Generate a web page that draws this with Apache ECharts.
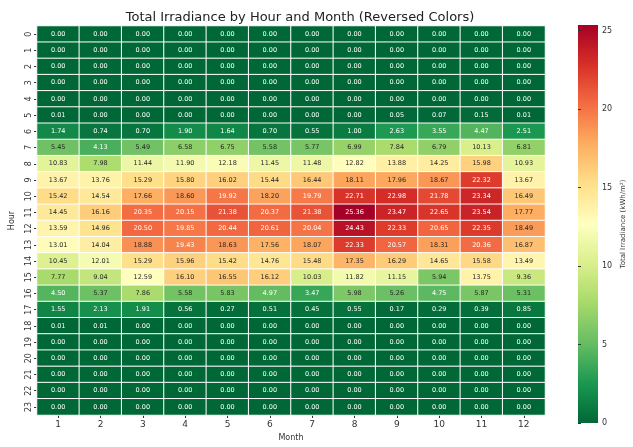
<!DOCTYPE html>
<html>
<head>
<meta charset="utf-8">
<script src="https://cdn.jsdelivr.net/npm/echarts@6/dist/echarts.min.js"></script>
<style>
  html, body { margin: 0; padding: 0; background: #fff; }
  #chart { width: 633px; height: 447px; }
</style>
</head>
<body>
<div id="chart"></div>
<script>
const months = ['1', '2', '3', '4', '5', '6', '7', '8', '9', '10', '11', '12'];
const hours = Array.from({ length: 24 }, (_, i) => String(i));

// irradiance per hour (rows) for months 1..12 (columns)
const irradiance = [
  [0, 0, 0, 0, 0, 0, 0, 0, 0, 0, 0, 0],
  [0, 0, 0, 0, 0, 0, 0, 0, 0, 0, 0, 0],
  [0, 0, 0, 0, 0, 0, 0, 0, 0, 0, 0, 0],
  [0, 0, 0, 0, 0, 0, 0, 0, 0, 0, 0, 0],
  [0, 0, 0, 0, 0, 0, 0, 0, 0, 0, 0, 0],
  [0.01, 0, 0, 0, 0, 0, 0, 0, 0.05, 0.07, 0.15, 0.01],
  [1.74, 0.74, 0.70, 1.90, 1.64, 0.70, 0.55, 1.00, 2.63, 3.55, 4.47, 2.51],
  [5.45, 4.13, 5.49, 6.58, 6.75, 5.58, 5.77, 6.99, 7.84, 6.79, 10.13, 6.81],
  [10.83, 7.98, 11.44, 11.90, 12.18, 11.45, 11.48, 12.82, 13.88, 14.25, 15.98, 10.93],
  [13.67, 13.76, 15.29, 15.80, 16.02, 15.44, 16.44, 18.11, 17.96, 18.67, 22.32, 13.67],
  [15.42, 14.54, 17.66, 18.60, 19.92, 18.20, 19.79, 22.71, 22.98, 21.78, 23.34, 16.49],
  [14.45, 16.16, 20.35, 20.15, 21.38, 20.37, 21.38, 25.36, 23.47, 22.65, 23.54, 17.77],
  [13.59, 14.96, 20.50, 19.85, 20.44, 20.61, 20.04, 24.43, 22.33, 20.65, 22.35, 18.49],
  [13.01, 14.04, 18.88, 19.43, 18.63, 17.56, 18.07, 22.33, 20.57, 18.31, 20.36, 16.87],
  [10.45, 12.01, 15.29, 15.96, 15.42, 14.76, 15.48, 17.35, 16.29, 14.65, 15.58, 13.49],
  [7.77, 9.04, 12.59, 16.10, 16.55, 16.12, 10.03, 11.82, 11.15, 5.94, 13.75, 9.36],
  [4.50, 5.37, 7.86, 5.58, 5.83, 4.97, 3.47, 5.98, 5.26, 4.75, 5.87, 5.31],
  [1.55, 2.13, 1.91, 0.56, 0.27, 0.51, 0.45, 0.55, 0.17, 0.29, 0.39, 0.85],
  [0.01, 0.01, 0, 0, 0, 0, 0, 0, 0, 0, 0, 0],
  [0, 0, 0, 0, 0, 0, 0, 0, 0, 0, 0, 0],
  [0, 0, 0, 0, 0, 0, 0, 0, 0, 0, 0, 0],
  [0, 0, 0, 0, 0, 0, 0, 0, 0, 0, 0, 0],
  [0, 0, 0, 0, 0, 0, 0, 0, 0, 0, 0, 0],
  [0, 0, 0, 0, 0, 0, 0, 0, 0, 0, 0, 0]
];

const colorbarTicks = [0, 5, 10, 15, 20, 25];

// RdYlGn reversed (green = low, red = high)
const palette = ['#006837', '#1a9850', '#66bd63', '#a6d96a', '#d9ef8b', '#ffffbf',
  '#fee08b', '#fdae61', '#f46d43', '#d73027', '#a50026'];

let vmax = 0;
irradiance.forEach(r => r.forEach(v => { if (v > vmax) vmax = v; }));

function hexToRgb(h) {
  return [parseInt(h.slice(1, 3), 16), parseInt(h.slice(3, 5), 16), parseInt(h.slice(5, 7), 16)];
}

// same colour lookup as the visual map, used to pick a readable text colour
function textColor(v) {
  const t = Math.min(1, Math.max(0, v / vmax)) * (palette.length - 1);
  const i = Math.min(palette.length - 2, Math.floor(t));
  const f = t - i;
  const a = hexToRgb(palette[i]), b = hexToRgb(palette[i + 1]);
  const rgb = a.map((c, k) => (c + (b[k] - c) * f) / 255);
  const lin = rgb.map(c => (c <= 0.03928 ? c / 12.92 : Math.pow((c + 0.055) / 1.055, 2.4)));
  const lum = 0.2126 * lin[0] + 0.7152 * lin[1] + 0.0722 * lin[2];
  return lum > 0.408 ? '#262626' : '#ffffff';
}

const data = [];
irradiance.forEach((row, h) => {
  row.forEach((v, m) => {
    data.push({ value: [m, h, v], label: { color: textColor(v) } });
  });
});

// colorbar: gradient behind the second grid, same stops as the visual map
const colorbarFill = new echarts.graphic.LinearGradient(0, 1, 0, 0,
  palette.map((c, i) => ({ offset: i / (palette.length - 1), color: c })));

const chart = echarts.init(document.getElementById('chart'));
const font = 'DejaVu Sans';

chart.setOption({
  animation: false,
  textStyle: { fontFamily: font },
  title: {
    text: 'Total Irradiance by Hour and Month (Reversed Colors)',
    left: 295,
    textAlign: 'center',
    top: 6,
    textStyle: { fontSize: 13, fontWeight: 'normal', color: '#222', fontFamily: font }
  },
  grid: [
    { left: 36, right: 88, top: 26, bottom: 24 },
    { left: 578, width: 20, top: 25, bottom: 24, show: true, borderWidth: 0, backgroundColor: colorbarFill }
  ],
  xAxis: [
    {
      type: 'category',
      data: months,
      name: 'Month',
      nameLocation: 'middle',
      nameGap: 19,
      nameTextStyle: { fontSize: 8, color: '#333' },
      axisLine: { show: false },
      axisTick: { show: true, alignWithLabel: true, length: 3, lineStyle: { color: '#333' } },
      axisLabel: { fontSize: 9, color: '#333', margin: 5 },
      splitLine: { show: false }
    },
    { gridIndex: 1, type: 'value', show: false }
  ],
  yAxis: [
    {
      type: 'category',
      data: hours,
      inverse: true,
      name: 'Hour',
      nameLocation: 'middle',
      nameGap: 21,
      nameRotate: 90,
      nameTextStyle: { fontSize: 8, color: '#333' },
      axisLine: { show: false },
      axisTick: { show: true, alignWithLabel: true, length: 3, lineStyle: { color: '#333' } },
      axisLabel: { fontSize: 8, color: '#333', rotate: 90, margin: 4 },
      splitLine: { show: false }
    },
    {
      gridIndex: 1,
      type: 'value',
      position: 'right',
      min: 0,
      max: vmax,
      interval: 5,
      name: 'Total Irradiance (kWh/m²)',
      nameLocation: 'middle',
      nameGap: 22,
      nameRotate: 90,
      nameTextStyle: { fontSize: 7, color: '#333' },
      axisLine: { show: false },
      axisTick: { show: true, length: 3, lineStyle: { color: '#333' } },
      axisLabel: {
        fontSize: 8, color: '#333', margin: 4,
        formatter: v => (colorbarTicks.includes(v) ? String(v) : '')
      },
      splitLine: { show: false }
    }
  ],
  visualMap: {
    type: 'continuous',
    show: false,
    min: 0,
    max: vmax,
    seriesIndex: 0,
    inRange: { color: palette }
  },
  series: [
    {
      type: 'heatmap',
      data: data,
      label: {
        show: true,
        fontSize: 6.5,
        fontFamily: font,
        formatter: p => p.value[2].toFixed(2)
      },
      itemStyle: { borderColor: '#ffffff', borderWidth: 1 }
    }
  ]
});
</script>
</body>
</html>
